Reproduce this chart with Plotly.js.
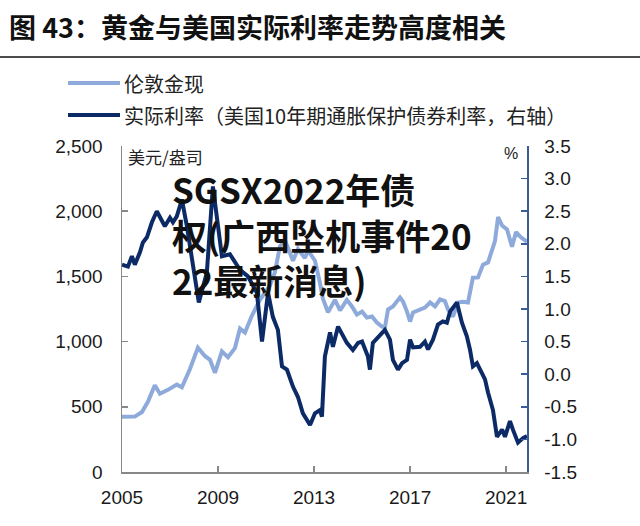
<!DOCTYPE html>
<html>
<head>
<meta charset="utf-8">
<script src="https://cdn.plot.ly/plotly-3.0.1.min.js"></script>
<style>
  html, body { margin: 0; padding: 0; background: #fff; }
  #chart { width: 640px; height: 526px; }
</style>
</head>
<body>
<div id="chart"></div>
<script>
// 伦敦金现 (美元/盎司), 左轴
const goldDates = ['2005-01-01','2005-07-15','2005-11-01','2006-02-01','2006-05-15','2006-08-01','2006-12-01',
  '2007-04-15','2007-07-01','2007-11-01','2008-03-01','2008-06-15','2008-09-01','2008-11-15','2009-03-01',
  '2009-06-01','2009-09-15','2009-12-01','2010-02-15','2010-06-01','2010-10-01','2010-12-15','2011-03-01',
  '2011-05-15','2011-08-01','2011-10-15','2012-01-01','2012-02-15','2012-05-01','2012-08-15','2012-10-01',
  '2013-01-15','2013-04-01','2013-05-15','2013-08-01','2013-11-15','2014-02-01','2014-05-15','2014-08-01',
  '2014-10-15','2015-01-01','2015-03-15','2015-06-01','2015-08-15','2015-11-01','2015-12-15','2016-02-01',
  '2016-04-15','2016-08-01','2016-09-15','2016-11-15','2017-01-01','2017-02-15','2017-06-01','2017-08-15',
  '2017-11-01','2018-01-15','2018-04-01','2018-06-15','2018-08-01','2018-10-15','2019-01-01','2019-03-15',
  '2019-06-01','2019-08-15','2019-11-01','2020-01-15','2020-04-01','2020-06-01','2020-07-15','2020-09-01',
  '2020-11-01','2021-01-15','2021-04-01','2021-06-01','2021-08-15','2021-11-15'];
const goldValues = [423,425,460,540,665,600,630,
  670,650,790,954,890,860,760,925,
  880,950,1100,1070,1200,1320,1380,1430,
  1530,1730,1780,1690,1620,1710,1640,1700,
  1620,1450,1330,1225,1320,1240,1320,1270,
  1207,1230,1184,1192,1146,1115,1110,1246,
  1270,1338,1308,1230,1154,1223,1246,1261,
  1300,1270,1323,1310,1246,1192,1300,1305,
  1300,1490,1492,1590,1607,1707,1770,1955,
  1890,1860,1728,1840,1800,1765];

// 实际利率 (美国10年期TIPS, %), 右轴
const rateDates = ['2005-01-01','2005-04-01','2005-06-01','2005-07-15','2005-10-01','2005-11-15','2006-01-15',
  '2006-04-01','2006-06-15','2006-09-01','2006-10-15','2007-01-01','2007-02-15','2007-04-15','2007-07-01',
  '2007-09-15','2007-12-01','2008-03-15','2008-07-15','2008-10-15','2009-03-01','2009-07-01','2009-12-01',
  '2010-04-01','2010-08-15','2010-11-01','2011-02-01','2011-04-15','2011-07-01','2011-09-01','2011-11-15',
  '2012-02-15','2012-05-01','2012-07-15','2012-11-01','2013-01-15','2013-04-01','2013-05-01','2013-06-15',
  '2013-09-01','2013-10-15','2014-01-01','2014-05-15','2014-08-15','2014-11-01','2015-01-01','2015-04-01',
  '2015-05-01','2015-06-15','2015-10-01','2015-12-15','2016-03-01','2016-04-15','2016-07-01','2016-09-01',
  '2016-11-15','2017-01-01','2017-02-15','2017-06-01','2017-08-15','2017-10-01','2017-12-15','2018-03-01',
  '2018-05-15','2018-07-15','2018-09-01','2018-12-15','2019-03-01','2019-05-15','2019-07-01','2019-08-15',
  '2019-10-15','2019-12-01','2020-02-15','2020-04-01','2020-06-15','2020-08-15','2020-11-01','2020-12-15',
  '2021-03-01','2021-04-15','2021-07-01','2021-09-15','2021-11-15'];
const rateValues = [1.68,1.65,1.81,1.68,1.87,2.02,2.10,
  2.33,2.50,2.35,2.27,2.40,2.33,2.42,2.68,
  2.27,1.81,1.10,1.56,2.88,1.81,1.84,1.60,
  1.50,1.25,0.50,1.25,0.88,0.68,0.12,0.07,
  -0.19,-0.35,-0.60,-0.78,-0.60,-0.55,-0.65,0.27,
  0.64,0.42,0.73,0.48,0.37,0.48,0.50,0.27,
  0.07,0.48,0.60,0.68,0.53,0.22,0.07,0.17,
  0.22,0.53,0.41,0.42,0.50,0.38,0.53,0.76,
  0.81,0.79,0.96,1.10,0.79,0.58,0.38,0.12,
  0.17,0.07,-0.08,-0.28,-0.55,-0.96,-0.85,-0.96,
  -0.72,-0.85,-1.05,-0.98,-0.95];

// 坐标轴刻度
const yearTicks = ['2005-01-01','2009-01-01','2013-01-01','2017-01-01','2021-01-01'];
const yearLabels = ['2005','2009','2013','2017','2021'];
const leftTicks = [0, 500, 1000, 1500, 2000, 2500];
const rightTicks = [-1.5, -1.0, -0.5, 0.0, 0.5, 1.0, 1.5, 2.0, 2.5, 3.0, 3.5];

const goldColor = '#8eaadb';
const rateColor = '#0b2a66';
const tickFont = { family: 'Liberation Sans, Arial, sans-serif', size: 19, color: '#1a1a1a' };
const cjk = 'Noto Sans CJK SC, sans-serif';

// 像素 -> paper 坐标 (绘图区 x:122-527, y:146-472)
function px(x) { return (x - 122) / 405; }
function py(y) { return (472 - y) / 326; }

const traces = [
  {
    x: goldDates, y: goldValues, type: 'scatter', mode: 'lines', name: '伦敦金现',
    line: { color: goldColor, width: 4 }, yaxis: 'y', showlegend: false
  },
  {
    x: rateDates, y: rateValues, type: 'scatter', mode: 'lines', name: '实际利率',
    line: { color: rateColor, width: 4 }, yaxis: 'y2', showlegend: false
  }
];

const layout = {
  width: 640, height: 526,
  margin: { l: 122, r: 113, t: 146, b: 54 },
  paper_bgcolor: '#fff', plot_bgcolor: '#fff',
  title: {
    text: '<b>图 43：黄金与美国实际利率走势高度相关</b>',
    font: { family: cjk, size: 27, color: '#111' },
    xref: 'container', yref: 'container', x: 9 / 640, xanchor: 'left',
    y: 1 - 29 / 526, yanchor: 'middle'
  },
  xaxis: {
    type: 'date', range: ['2005-01-01', '2021-11-15'],
    tickvals: yearTicks, ticktext: yearLabels,
    ticks: 'inside', ticklen: 6, tickcolor: '#888', tickwidth: 1.5,
    showline: true, linecolor: '#888', linewidth: 1.5,
    showgrid: false, zeroline: false, tickfont: tickFont, ticklabelstandoff: 8
  },
  yaxis: {
    range: [0, 2500], tickvals: leftTicks, tickformat: ',',
    ticks: 'inside', ticklen: 6, tickcolor: '#888', tickwidth: 1.5,
    showline: true, linecolor: '#888', linewidth: 1.5,
    showgrid: false, zeroline: false, tickfont: tickFont, ticklabelstandoff: 14
  },
  yaxis2: {
    overlaying: 'y', side: 'right', range: [-1.5, 3.5],
    tickvals: rightTicks, ticktext: rightTicks.map(v => v.toFixed(1)),
    ticks: 'inside', ticklen: 6, tickcolor: '#3b5b99', tickwidth: 1.5,
    showline: true, linecolor: '#3b5b99', linewidth: 1.5,
    showgrid: false, zeroline: false, tickfont: tickFont, ticklabelstandoff: 12
  },
  shapes: [
    // 标题下横线
    { type: 'line', xref: 'paper', yref: 'paper', x0: px(0), x1: px(640), y0: py(57), y1: py(57),
      line: { color: '#111', width: 1.5 } },
    // 图例线条
    { type: 'line', xref: 'paper', yref: 'paper', x0: px(68), x1: px(120), y0: py(83), y1: py(83),
      line: { color: goldColor, width: 4 } },
    { type: 'line', xref: 'paper', yref: 'paper', x0: px(68), x1: px(120), y0: py(115), y1: py(115),
      line: { color: rateColor, width: 4 } }
  ],
  annotations: [
    { text: '伦敦金现', xref: 'paper', yref: 'paper', x: px(122), y: py(83), xanchor: 'left', yanchor: 'middle',
      showarrow: false, font: { family: cjk, size: 20, color: '#222' } },
    { text: '实际利率（美国10年期通胀保护债券利率，右轴）', xref: 'paper', yref: 'paper', x: px(122), y: py(115),
      xanchor: 'left', yanchor: 'middle', showarrow: false, font: { family: cjk, size: 20, color: '#222' } },
    { text: '美元/盎司', xref: 'paper', yref: 'paper', x: px(126), y: py(156), xanchor: 'left', yanchor: 'middle',
      showarrow: false, font: { family: cjk, size: 17, color: '#222' } },
    { text: '%', xref: 'paper', yref: 'paper', x: px(520), y: py(153), xanchor: 'right', yanchor: 'middle',
      showarrow: false, font: { family: 'Liberation Sans, Arial, sans-serif', size: 16, color: '#222' } },
    // 覆盖文字
    { text: '<b>SGSX2022年债<br>权(广西坠机事件20<br>22最新消息)</b>', xref: 'paper', yref: 'paper',
      x: px(170), y: py(234), xanchor: 'left', yanchor: 'middle', align: 'left', showarrow: false,
      font: { family: cjk, size: 35, color: '#111' } }
  ],
  showlegend: false
};

Plotly.newPlot('chart', traces, layout, { displayModeBar: false, staticPlot: true });
</script>
</body>
</html>
